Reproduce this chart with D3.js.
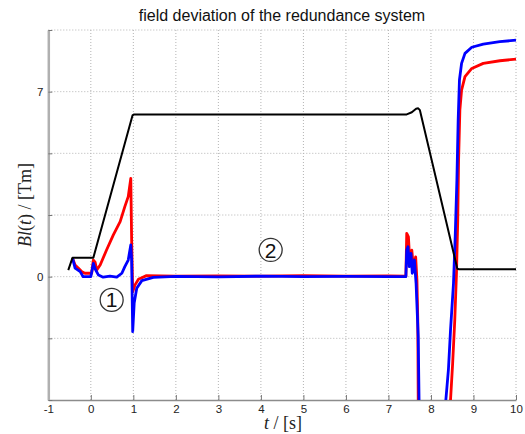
<!DOCTYPE html>
<html lang="en">
<head>
    <meta charset="UTF-8">
    <title>field deviation of the redundance system</title>
    <script src="https://d3js.org/d3.v7.min.js"></script>
    <style>
        body { margin: 0; background: #fff; }
        svg text { font-family: Arial, "Liberation Sans", sans-serif; }
    </style>
</head>
<body>
    <svg id="chart" width="525" height="434"></svg>
    <script>
        // time ticks and labelled field ticks
        const xTicks = [-1, 0, 1, 2, 3, 4, 5, 6, 7, 8, 9, 10];
        const yTicks = [-14 / 3, -7 / 3, 0, 7 / 3, 14 / 3, 7, 28 / 3];
        const yLabels = { 0: "0", 7: "7" };

        // reference field (black), [t, Bl]
        const blackData = [
            [-0.53, 0.25], [-0.43, 0.72], [0.06, 0.72], [0.98, 6.1], [1.02, 6.14],
            [7.43, 6.14], [7.55, 6.22], [7.65, 6.35], [7.70, 6.37], [7.74, 6.3],
            [8.62, 0.3], [8.66, 0.28], [10, 0.28]
        ];

        // measured deviation, red channel
        const redData = [
            [-0.43, 0.70], [-0.37, 0.44], [-0.29, 0.32], [-0.21, 0.19], [-0.14, 0.13],
            [0.02, 0.13], [0.06, 0.63], [0.10, 0.55], [0.14, 0.25], [0.22, 0.44],
            [0.37, 1.01], [0.53, 1.58], [0.69, 2.08], [0.80, 2.65], [0.88, 3.03],
            [0.94, 3.72], [0.96, 1.39], [0.985, -0.57], [1.04, -0.31], [1.12, -0.1],
            [1.31, 0.04], [2, 0.02], [3, 0.03], [4, 0.02], [5, 0.04], [6, 0.02],
            [7, 0.03], [7.41, 0.02], [7.43, 1.64], [7.47, 1.51], [7.50, 0.63],
            [7.55, 1.0], [7.59, 0.3], [7.64, 0.75], [7.67, -0.13], [7.69, -1.64],
            [7.70, -4.67], [7.72, -12], [8.4, -12], [8.46, -4.67], [8.51, -3.28],
            [8.56, -1.64], [8.60, 0.13], [8.63, 2.14], [8.65, 4.42], [8.68, 6.31],
            [8.72, 7.06], [8.80, 7.57], [8.96, 7.88], [9.23, 8.07], [9.62, 8.17],
            [10, 8.23]
        ];

        // measured deviation, blue channel
        const blueData = [
            [-0.43, 0.70], [-0.37, 0.32], [-0.25, 0.19], [-0.18, 0.0], [0.0, 0.0],
            [0.06, 0.5], [0.10, 0.3], [0.18, 0.06], [0.29, -0.02], [0.45, 0.02],
            [0.61, -0.02], [0.73, 0.13], [0.80, 0.38], [0.88, 0.63], [0.94, 1.2],
            [0.96, 0.63], [0.985, -2.08], [1.02, -1.0], [1.08, -0.44], [1.2, -0.15],
            [1.47, -0.03], [2, 0.01], [3, -0.01], [4, 0.02], [5, 0.0], [6, 0.01],
            [7, 0.0], [7.41, 0.0], [7.43, 1.01], [7.46, 1.13], [7.49, 0.38],
            [7.53, 0.88], [7.56, 0.13], [7.61, 0.63], [7.65, -0.25], [7.70, -2.27],
            [7.72, -4.67], [7.74, -12], [8.3, -12], [8.35, -4.67], [8.41, -3.53],
            [8.46, -2.02], [8.53, -0.25], [8.57, 1.51], [8.61, 3.66], [8.64, 5.93],
            [8.67, 7.44], [8.72, 8.07], [8.80, 8.45], [8.96, 8.68], [9.23, 8.8],
            [9.62, 8.89], [10, 8.95]
        ];

        const svg = d3.select("#chart");
        const x = d3.scaleLinear().domain([-1, 10]).range([48.3, 516]);
        const y = d3.scaleLinear().domain([-14 / 3, 28 / 3]).range([400, 30]);

        // dotted grid
        const grid = svg.append("g").attr("stroke", "#b4b4b4").attr("stroke-dasharray", "1,2");
        grid.selectAll(".vg").data(xTicks.slice(1)).enter().append("line")
            .attr("x1", d => x(d)).attr("x2", d => x(d))
            .attr("y1", y.range()[1]).attr("y2", y.range()[0]);
        grid.selectAll(".hg").data(yTicks.slice(1)).enter().append("line")
            .attr("x1", x.range()[0]).attr("x2", x.range()[1])
            .attr("y1", d => y(d)).attr("y2", d => y(d));

        // axes
        const xAxis = d3.axisBottom(x).tickValues(xTicks).tickSizeInner(-5).tickSizeOuter(0).tickPadding(5)
            .tickFormat(d => String(d));
        const gx = svg.append("g").attr("transform", "translate(0,400)").call(xAxis);
        const yAxis = d3.axisLeft(y).tickValues(yTicks).tickSizeInner(-4).tickSizeOuter(0).tickPadding(5)
            .tickFormat(d => yLabels[d] || "");
        const gy = svg.append("g").attr("transform", `translate(${x.range()[0]},0)`).call(yAxis);
        gx.select(".domain").attr("stroke", "#8c8c8c").attr("stroke-width", 1.5);
        gy.select(".domain").attr("stroke", "#b0b0b0").attr("stroke-width", 2.5);
        svg.selectAll(".tick line").attr("stroke", "#777");
        svg.selectAll(".tick text").attr("font-size", 11.5).attr("fill", "#222");

        // curves
        svg.append("defs").append("clipPath").attr("id", "plot")
            .append("rect").attr("x", 48).attr("y", 30).attr("width", 470).attr("height", 370);
        const line = d3.line().x(d => x(d[0])).y(d => y(d[1]));
        const curves = svg.append("g").attr("clip-path", "url(#plot)").attr("fill", "none")
            .attr("stroke-linejoin", "round");
        curves.append("path").datum(redData).attr("d", line).attr("stroke", "#ff0000").attr("stroke-width", 2.8);
        curves.append("path").datum(blueData).attr("d", line).attr("stroke", "#0000ff").attr("stroke-width", 2.8);
        curves.append("path").datum(blackData).attr("d", line).attr("stroke", "#000").attr("stroke-width", 2);

        // circled markers
        const marks = [{ t: 0.49, v: -0.88, label: "1" }, { t: 4.23, v: 1.01, label: "2" }];
        const mg = svg.selectAll(".mark").data(marks).enter().append("g")
            .attr("transform", d => `translate(${x(d.t)},${y(d.v)})`);
        mg.append("circle").attr("r", 11.5).attr("fill", "#fff").attr("stroke", "#333").attr("stroke-width", 1.3);
        mg.append("text").attr("text-anchor", "middle").attr("dy", "0.36em")
            .attr("font-size", 21).attr("fill", "#111").text(d => d.label);

        // title and axis labels
        svg.append("text").attr("x", 282).attr("y", 21).attr("text-anchor", "middle")
            .attr("font-size", 16).attr("fill", "#111").text("field deviation of the redundance system");

        const xl = svg.append("text").attr("x", 283).attr("y", 429).attr("text-anchor", "middle")
            .attr("font-size", 18).style("font-family", "'Liberation Serif', 'Times New Roman', serif").attr("fill", "#222");
        xl.append("tspan").attr("font-style", "italic").text("t");
        xl.append("tspan").text(" / [s]");

        const yl = svg.append("text").attr("transform", "translate(31,205) rotate(-90)").attr("text-anchor", "middle")
            .attr("font-size", 18).style("font-family", "'Liberation Serif', 'Times New Roman', serif").attr("fill", "#222");
        yl.append("tspan").attr("font-style", "italic").text("Bl");
        yl.append("tspan").text("(");
        yl.append("tspan").attr("font-style", "italic").text("t");
        yl.append("tspan").text(") / [Tm]");
    </script>
</body>
</html>
